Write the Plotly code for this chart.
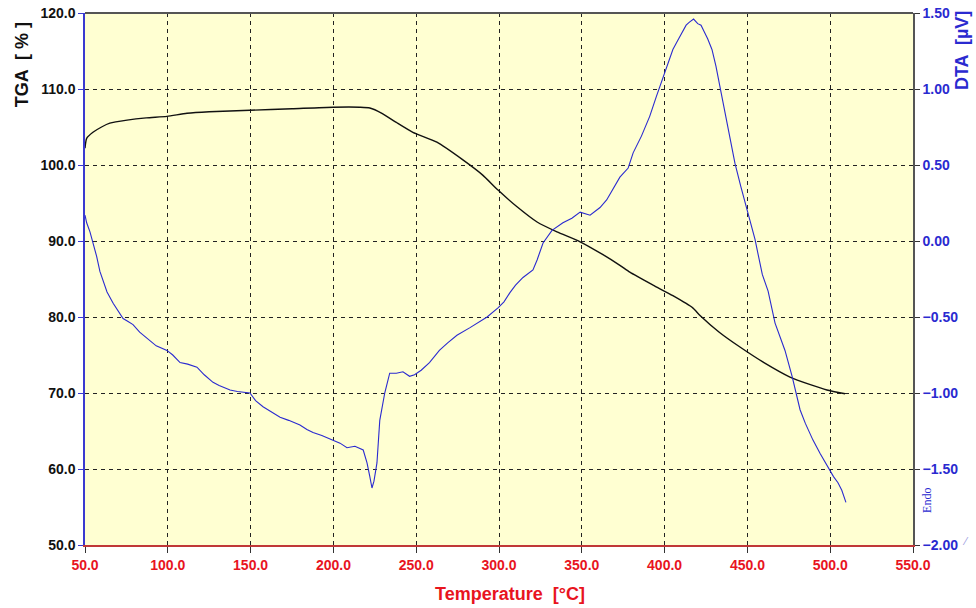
import plotly.graph_objects as go

# TGA curve (mass, %) against temperature (°C)
tga_temp = [50.0, 51.0, 54.8, 60.0, 65.0, 75.4, 87.0, 99.5, 111.6, 125.0, 149.6, 175.0, 199.8,
            216.0, 222.0, 229.3, 238.0, 248.0, 262.5, 278.0, 290.0, 299.4, 310.9, 323.0,
            335.0, 349.0, 362.8, 373.0, 379.0, 393.0, 405.0, 417.0, 421.4, 433.0, 445.5,
            460.0, 475.7, 488.0, 498.0, 509.0]
tga_mass = [102.2, 103.5, 104.3, 105.0, 105.5, 105.9, 106.2, 106.4, 106.8, 107.0, 107.2, 107.4, 107.6,
            107.6, 107.5, 106.8, 105.6, 104.3, 103.0, 100.7, 98.7, 96.7, 94.5, 92.5,
            91.2, 89.9, 88.2, 86.8, 85.9, 84.2, 82.8, 81.2, 80.2, 78.0, 76.05,
            74.0, 72.1, 71.1, 70.4, 69.9]

# DTA signal (µV) against temperature (°C)
dta_temp = [50.0, 51.0, 53.0, 54.8, 57.0, 59.0, 61.0, 63.3, 67.0, 70.0, 73.0, 76.0, 79.0, 83.0,
            87.4, 93.0, 99.5, 103.0, 107.4, 112.0, 117.6, 122.0, 127.3, 131.0, 137.6, 142.0,
            149.6, 153.0, 157.5, 162.0, 167.8, 173.0, 179.8, 184.0, 187.7, 193.0, 199.8,
            204.0, 208.2, 213.0, 218.0, 220.3, 222.0, 223.3, 224.5, 226.3, 228.0, 231.0,
            234.0, 238.0, 242.0, 246.0, 249.0, 253.0, 258.0, 264.0, 269.0, 274.6, 282.5,
            288.0, 292.8, 299.4, 303.0, 306.6, 310.0, 314.5, 320.5, 323.0, 326.6, 332.0,
            338.6, 344.0, 349.0, 355.0, 361.0, 365.0, 368.8, 373.0, 378.0, 381.0, 386.0,
            391.0, 395.0, 398.4, 402.0, 405.0, 408.0, 410.5, 413.0, 415.0, 417.5, 420.0,
            422.0, 424.0, 426.0, 428.6, 431.0, 433.5, 437.6, 442.5, 446.0, 449.8, 454.6,
            459.0, 462.5, 466.7, 469.5, 472.7, 477.0, 481.8, 485.0, 489.6, 494.0, 498.7,
            502.0, 504.7, 507.0, 509.5]
dta_val = [0.17, 0.12, 0.06, -0.01, -0.10, -0.20, -0.27, -0.335, -0.41, -0.46, -0.51, -0.53, -0.55, -0.60,
           -0.64, -0.69, -0.72, -0.75, -0.80, -0.81, -0.83, -0.88, -0.93, -0.95, -0.98, -0.99,
           -1.00, -1.05, -1.09, -1.12, -1.16, -1.18, -1.21, -1.24, -1.26, -1.28, -1.31,
           -1.33, -1.36, -1.35, -1.375, -1.46, -1.55, -1.625, -1.58, -1.46, -1.18, -1.00,
           -0.87, -0.87, -0.86, -0.89, -0.88, -0.85, -0.80, -0.72, -0.67, -0.62, -0.57,
           -0.53, -0.50, -0.44, -0.40, -0.34, -0.29, -0.24, -0.19, -0.125, -0.013, 0.07,
           0.12, 0.15, 0.19, 0.17, 0.22, 0.27, 0.34, 0.42, 0.48, 0.58, 0.69,
           0.82, 0.95, 1.06, 1.17, 1.26, 1.32, 1.37, 1.42, 1.44, 1.46, 1.43,
           1.42, 1.375, 1.33, 1.26, 1.15, 1.01, 0.78, 0.51, 0.36, 0.20, 0.01,
           -0.22, -0.33, -0.54, -0.62, -0.72, -0.89, -1.11, -1.20, -1.31, -1.40, -1.49,
           -1.55, -1.59, -1.64, -1.72]

x_ticks = [50, 100, 150, 200, 250, 300, 350, 400, 450, 500, 550]
tga_ticks = [50, 60, 70, 80, 90, 100, 110, 120]
dta_ticks = [-2.0, -1.5, -1.0, -0.5, 0.0, 0.5, 1.0, 1.5]

FONT = "Liberation Sans, Arial, sans-serif"
BLUE = "#2a2ad0"
RED = "#e8141e"

fig = go.Figure()
fig.add_trace(go.Scatter(x=tga_temp, y=tga_mass, mode="lines",
                         line=dict(color="#111111", width=1.4, shape="spline", smoothing=0.6),
                         yaxis="y", showlegend=False))
fig.add_trace(go.Scatter(x=dta_temp, y=dta_val, mode="lines",
                         line=dict(color=BLUE, width=1.1),
                         yaxis="y2", showlegend=False))

fig.update_layout(
    width=976, height=608,
    margin=dict(l=85, r=63, t=13, b=63),
    paper_bgcolor="white",
    plot_bgcolor="#ffffd2",
    xaxis=dict(
        range=[50, 550], tickvals=x_ticks, tickformat=".1f", automargin=False,
        tickfont=dict(family=FONT, size=14, color=RED, weight="bold"),
        showline=True, linecolor="#c03838", linewidth=1.5,
        ticks="outside", ticklen=6, tickcolor="#333333",
        showgrid=True, gridcolor="#222222", griddash="4px,4px", gridwidth=1,
        zeroline=False,
    ),
    yaxis=dict(
        range=[50, 120], tickvals=tga_ticks, tickformat=".1f", automargin=False,
        tickfont=dict(family=FONT, size=14, color="#111111", weight="bold"),
        showline=True, linecolor="#3a3ad0", linewidth=1.5,
        ticks="outside", ticklen=5, tickcolor="#3a3ad0",
        showgrid=True, gridcolor="#222222", griddash="4px,4px", gridwidth=1,
        zeroline=False,
    ),
    yaxis2=dict(
        range=[-2.0, 1.5], tickvals=dta_ticks, tickformat=".2f", automargin=False,
        overlaying="y", side="right",
        tickfont=dict(family=FONT, size=14, color=BLUE, weight="bold"),
        showline=True, linecolor="#555555", linewidth=1.5,
        ticks="outside", ticklen=5, tickcolor="#333333",
        showgrid=False, zeroline=False,
    ),
    shapes=[dict(type="line", xref="paper", yref="paper", x0=0, x1=1, y0=1, y1=1,
                 line=dict(color="#555555", width=2))],
    annotations=[
        dict(text="TGA  [ % ]", xref="paper", yref="paper", x=-0.076, y=0.902,
             xanchor="center", yanchor="middle", textangle=-90, showarrow=False,
             font=dict(family=FONT, size=18, color="#111111", weight="bold")),
        dict(text="DTA  [µV]", xref="paper", yref="paper", x=1.059, y=0.93,
             xanchor="center", yanchor="middle", textangle=-90, showarrow=False,
             font=dict(family=FONT, size=18, color=BLUE, weight="bold")),
        dict(text="Temperature  [°C]", xref="paper", yref="paper", x=0.513, y=-0.092,
             xanchor="center", yanchor="middle", showarrow=False,
             font=dict(family=FONT, size=18, color=RED, weight="bold")),
        dict(text="Endo", xref="paper", yref="paper", x=1.017, y=0.083,
             xanchor="center", yanchor="middle", textangle=-90, showarrow=False,
             font=dict(family="Liberation Serif, Times New Roman, serif", size=12, color=BLUE)),
        dict(text="⁄", xref="paper", yref="paper", x=1.0635, y=0.008,
             xanchor="center", yanchor="middle", showarrow=False,
             font=dict(family=FONT, size=11, color="#9a9ae0")),
    ],
)

fig.write_html("out.html")
